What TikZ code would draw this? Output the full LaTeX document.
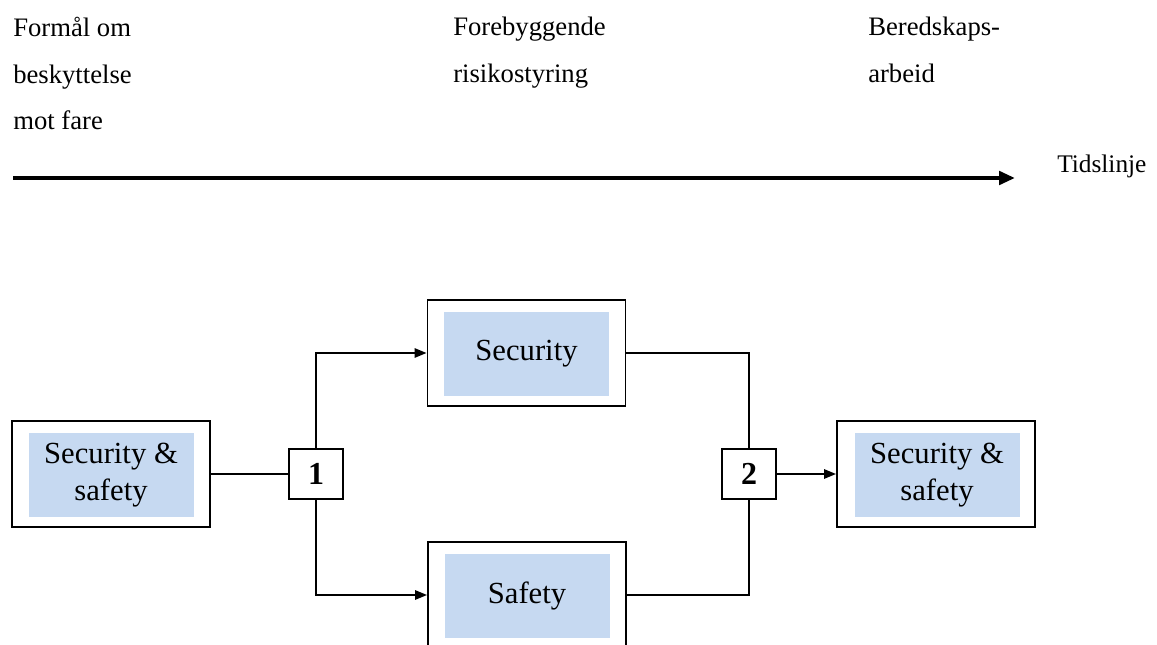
\documentclass[tikz,border=0pt]{standalone}
\usepackage{fontspec}
\setmainfont{Liberation Serif}
\usetikzlibrary{arrows.meta}
\definecolor{boxblue}{HTML}{C6D9F1}
\tikzset{
  outerbox/.style={draw, line width=1.4pt, fill=white, minimum width=148.5pt, minimum height=79.5pt, inner sep=0pt},
  innerbox/.style={fill=boxblue, minimum width=123.75pt, minimum height=63pt, inner sep=0pt, align=center, font=\fontsize{23}{28}\selectfont},
  numbox/.style={draw, line width=1.4pt, fill=white, minimum width=40pt, minimum height=37.5pt, inner sep=0pt, font=\fontsize{24}{24}\selectfont\bfseries},
  toplabel/.style={anchor=north west, inner sep=0pt, align=left, font=\fontsize{20}{35}\selectfont},
  conn/.style={line width=1.4pt},
}
\begin{document}
\begin{tikzpicture}[x=0.75pt,y=-0.75pt,>={Triangle[length=9pt,width=7pt]}]
	\useasboundingbox (0,0) rectangle (1157,645);
	
	% labels over the time line
	\node[toplabel] (formaal) at (13,17) {Formål om\\beskyttelse\\mot fare};
	\node[toplabel] (forebygg) at (453,17) {Forebyggende\\risikostyring};
	\node[toplabel] (bered) at (868,17) {Beredskaps-\\arbeid};
	
	\coordinate (tstart) at (13,178);
	\coordinate (tend) at (1015,178);
	\draw[line width=3pt,-{Triangle[length=12pt,width=10pt]}] (tstart) -- (tend);
	\node[anchor=base west, inner sep=0pt, font=\fontsize{19}{24}\selectfont] (tid) at (1057,173) {Tidslinje};
	
	% boxes
	\node[outerbox] (secL) at (111,474) {};
	\node[innerbox] (secLin) at (111,475) {Security \&\\safety};
	\node[outerbox] (secu) at (526.5,353) {};
	\node[innerbox] (secuin) at (526.5,354) {Security};
	\node[outerbox] (safe) at (527,595) {};
	\node[innerbox] (safein) at (527,596) {Safety};
	\node[outerbox] (secR) at (936,474) {};
	\node[innerbox] (secRin) at (937,475) {Security \&\\safety};
	
	\node[numbox] (n1) at (316,474) {1};
	\node[numbox] (n2) at (749,474) {2};
	
	% connectors
	\draw[conn] (secL) -- (n1);
	\draw[conn,->] (n1.north) |- (secu.west);
	\draw[conn,->] (n1.south) |- (safe.west);
	\draw[conn] (secu.east) -| (n2.north);
	\draw[conn] (safe.east) -| (n2.south);
	\draw[conn,->] (n2) -- (secR);
\end{tikzpicture}
\end{document}
